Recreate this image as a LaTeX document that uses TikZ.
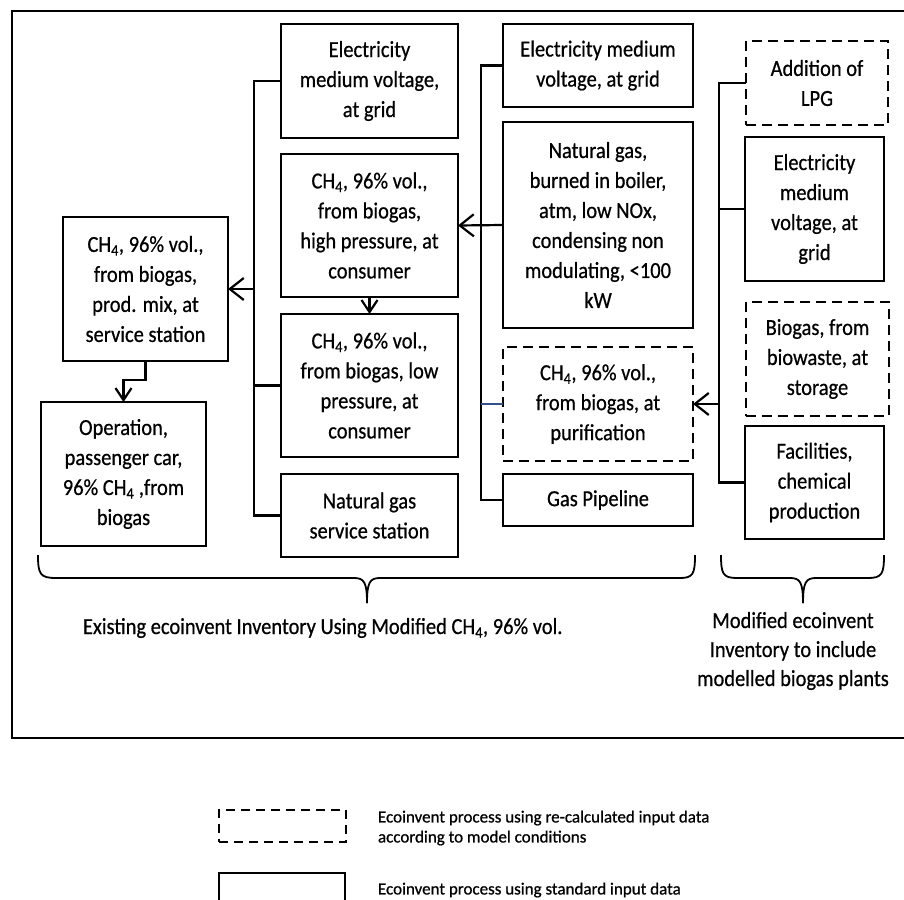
\documentclass[tikz,border=0pt]{standalone}
\usepackage{fontspec}
\setmainfont{Carlito}[FakeBold=0.5]
\newfontfamily\boxfont[FakeStretch=0.89,FakeBold=0.6]{Carlito}
\newfontfamily\legfont[FakeBold=0.8]{Carlito}
\usetikzlibrary{arrows.meta}
\definecolor{branchblue}{RGB}{50,80,140}
\begin{document}
\begin{tikzpicture}[x=1pt,y=-1pt,
  every node/.style={inner sep=0pt, outer sep=0pt},
  mainfont/.style={font=\boxfont\fontsize{23}{30}\selectfont},
  box/.style={draw, line width=2.4pt, align=center, mainfont},
  dbox/.style={box, dash pattern=on 10pt off 6pt, line width=2.8pt},
  conn/.style={line width=2.2pt},
  arr/.style={conn, -{Straight Barb[length=14pt,width=22pt,line width=2.2pt]}},
  darr/.style={conn, -{Straight Barb[length=12pt,width=16pt,line width=2.2pt]}},
  brace/.style={line width=1.8pt},
  legtext/.style={font=\legfont\fontsize{17}{20}\selectfont, align=left, anchor=west}]
\useasboundingbox (0,0) rectangle (904,899);

% outer frame (right side lies outside the picture)
\draw[line width=2.4pt] (904,11) -- (12,11) -- (12,738) -- (904,738);

% left column boxes
\node[box, minimum width=177pt, minimum height=114pt] (A) at (369.5,81) {Electricity\\medium voltage,\\at grid};
\node[box, minimum width=177pt, minimum height=143pt] (B) at (369.5,225.5) {CH\textsubscript{4}, 96\% vol.,\\from biogas,\\high pressure, at\\consumer};
\node[box, minimum width=165pt, minimum height=144pt] (C) at (145.5,289) {CH\textsubscript{4}, 96\% vol.,\\from biogas,\\prod. mix, at\\service station};
\node[box, minimum width=177pt, minimum height=143pt] (D) at (369.5,385.5) {CH\textsubscript{4}, 96\% vol.,\\from biogas, low\\pressure, at\\consumer};
\node[box, minimum width=177pt, minimum height=83pt] (E) at (369.5,515.5) {Natural gas\\service station};
\node[box, minimum width=165pt, minimum height=144pt] (F) at (123.5,474) {Operation,\\passenger car,\\96\% CH\textsubscript{4} ,from\\biogas};

% middle column boxes
\node[box, minimum width=190pt, minimum height=83pt] (G) at (598,65.5) {Electricity medium\\voltage, at grid};
\node[box, minimum width=190pt, minimum height=206pt] (H) at (598,225) {Natural gas,\\burned in boiler,\\atm, low NOx,\\condensing non\\modulating, <100\\kW};
\node[dbox, minimum width=190pt, minimum height=114pt] (M) at (598,404) {CH\textsubscript{4}, 96\% vol.,\\from biogas, at\\purification};
\node[box, minimum width=190pt, minimum height=52pt] (N) at (598,500) {Gas Pipeline};

% right column boxes
\node[dbox, minimum width=142pt, minimum height=84pt] (I) at (817,83) {Addition of\\LPG};
\node[box, minimum width=139pt, minimum height=144pt] (J) at (814.5,209) {Electricity\\medium\\voltage, at\\grid};
\node[dbox, minimum width=143pt, minimum height=114pt] (K) at (817.5,359) {Biogas, from\\biowaste, at\\storage};
\node[box, minimum width=139pt, minimum height=113pt] (L) at (814.5,482.5) {Facilities,\\chemical\\production};

% buses
\coordinate (bus1) at (254,0);
\coordinate (bus2) at (481,0);
\coordinate (bus3) at (719,0);

% bus 1
\draw[conn] (A.west) -- (A.west -| bus1) |- (E.west);
\draw[conn] (D.west) -- (D.west -| bus1);
\draw[arr] (C.east -| bus1) -- (C.east);
\draw[darr] (B.south) -- (D.north);
\draw[darr] (C.south) -- ++(0,19) -| (F.north);

% bus 2
\draw[conn] (G.west) -- (G.west -| bus2) |- (N.west);
\draw[conn, branchblue] (M.west) -- (M.west -| bus2);
\draw[arr] (H.west) -- (B.east);

% bus 3
\draw[conn] (I.west) -- (I.west -| bus3) |- (L.west);
\draw[conn] (J.west) -- (J.west -| bus3);
\draw[arr] (M.east -| bus3) -- (M.east);

% braces
\draw[brace] (38,555) .. controls (38,574) and (40,578) .. (56,578) -- (354,578) .. controls (364,578) and (367,582) .. (367,603);
\draw[brace] (367,603) .. controls (367,582) and (370,578) .. (380,578) -- (680,578) .. controls (693,578) and (695,574) .. (695,555);
\draw[brace] (721,555) .. controls (721,574) and (723,578) .. (737,578) -- (790,578) .. controls (800,578) and (803,582) .. (803,603);
\draw[brace] (803,603) .. controls (803,582) and (806,578) .. (816,578) -- (868,578) .. controls (882,578) and (884,574) .. (884,555);

% brace labels
\node[mainfont, anchor=west] (lab1) at (83,628) {Existing ecoinvent Inventory Using Modified CH\textsubscript{4}, 96\% vol.};
\node[font=\boxfont\fontsize{23}{29}\selectfont, align=center] (lab2) at (793,651) {Modified ecoinvent\\Inventory to include\\modelled biogas plants};

% legend
\node[draw, line width=2.4pt, dash pattern=on 9pt off 6pt, minimum width=127pt, minimum height=32pt] (leg1) at (282.5,826) {};
\node[draw, line width=2.2pt, minimum width=126pt, minimum height=32pt] (leg2) at (282,889) {};
\node[legtext] (legt1) at (378,828) {Ecoinvent process using re-calculated input data\\according to model conditions};
\node[legtext] (legt2) at (378,890) {Ecoinvent process using standard input data};
\end{tikzpicture}
\end{document}
